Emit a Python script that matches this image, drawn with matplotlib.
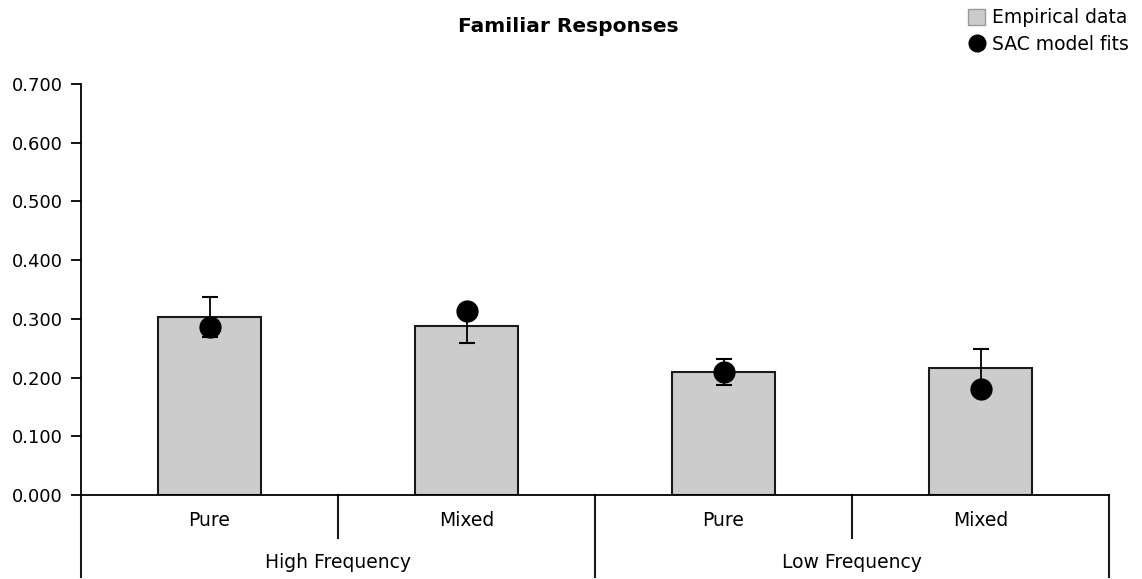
import numpy as np
import matplotlib.pyplot as plt
from matplotlib.patches import Patch
from matplotlib.lines import Line2D

# values
groups = ['High Frequency', 'Low Frequency']
conditions = ['Pure', 'Mixed', 'Pure', 'Mixed']
empirical = [0.303, 0.288, 0.210, 0.217]
errors = [0.034, 0.029, 0.022, 0.032]
sac_fits = [0.286, 0.314, 0.209, 0.180]
yticks = [0.0, 0.1, 0.2, 0.3, 0.4, 0.5, 0.6, 0.7]

x = np.arange(len(conditions))

fig = plt.figure(figsize=(11.42, 5.79), dpi=100)
ax = fig.add_axes([81/1142, 84/579, (1109-81)/1142, (495-84)/579])

ax.bar(x, empirical, width=0.4, color='#cccccc', edgecolor='#1a1a1a', linewidth=1.5, zorder=2)
ax.errorbar(x, empirical, yerr=errors, fmt='none', ecolor='black', elinewidth=1.3,
            capsize=5.5, capthick=1.5, zorder=3)
ax.plot(x, sac_fits, 'o', color='black', markersize=15, linestyle='none', zorder=4)

ax.set_xlim(-0.5, len(conditions) - 0.5)
ax.set_ylim(0, 0.7)
ax.set_yticks(yticks)
ax.set_yticklabels(['%.3f' % v for v in yticks], fontsize=13)
ax.tick_params(axis='y', direction='out', length=7, width=1.3, pad=6)
ax.set_xticks([])

for s in ['top', 'right']:
    ax.spines[s].set_visible(False)
ax.spines['left'].set_linewidth(1.3)
ax.spines['bottom'].set_linewidth(1.3)

# two level category axis
tr = ax.get_xaxis_transform()
fig_bottom = -(84/579) / ((495-84)/579)
for i, c in enumerate(conditions):
    ax.text(x[i], -0.062, c, transform=tr, ha='center', va='center', fontsize=13.5)
for b in np.arange(-0.5, len(conditions), 2):
    ax.plot([b, b], [0, fig_bottom + 0.005], transform=tr, color='#1a1a1a', lw=1.5, clip_on=False)
for b in np.arange(0.5, len(conditions), 2):
    ax.plot([b, b], [0, -0.105], transform=tr, color='#1a1a1a', lw=1.5, clip_on=False)
for g, name in enumerate(groups):
    ax.text(2 * g + 0.5, -0.165, name, transform=tr, ha='center', va='center', fontsize=13.5)

fig.text(568/1142, 1 - 27/579, 'Familiar Responses', ha='center', va='center',
         fontsize=14.5, fontweight='bold')

handles = [Patch(facecolor='#cccccc', edgecolor='#999999', linewidth=1),
           Line2D([], [], marker='o', color='black', linestyle='none', markersize=12)]
fig.legend(handles, ['Empirical data', 'SAC model fits'], loc='upper right',
           bbox_to_anchor=(1.003, 1.015), frameon=False, fontsize=13.5,
           handlelength=0.9, handleheight=0.9, handletextpad=0.35, labelspacing=0.4)

fig.savefig('out.png', dpi=100)
